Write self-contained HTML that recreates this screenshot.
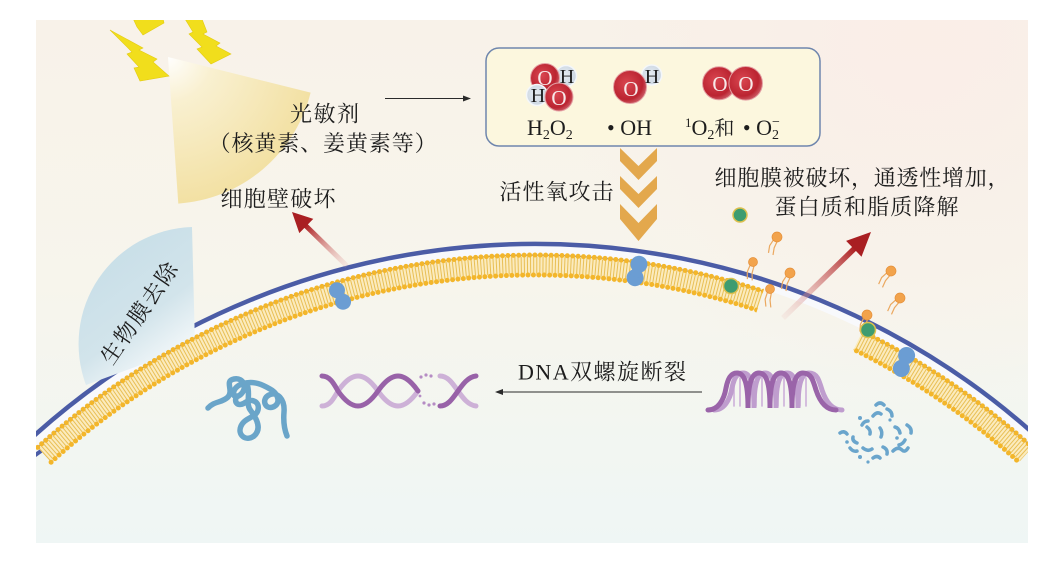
<!DOCTYPE html>
<html><head><meta charset="utf-8">
<style>
html,body{margin:0;padding:0;background:#fff;}
svg{display:block;}
text{font-family:"Liberation Serif","Noto Serif CJK SC",serif;fill:#1d1d1d;}
</style></head>
<body>
<svg width="1059" height="569" viewBox="0 0 1059 569" xmlns="http://www.w3.org/2000/svg">
<defs>
 <clipPath id="pic"><rect x="36" y="20" width="992" height="523"/></clipPath>
 <linearGradient id="bg" x1="0" y1="20" x2="0" y2="543" gradientUnits="userSpaceOnUse">
   <stop offset="0" stop-color="#f8f2e9"/>
   <stop offset="0.5" stop-color="#f7f5ec"/>
   <stop offset="1" stop-color="#eff6f5"/>
 </linearGradient>
 <radialGradient id="pink" cx="920" cy="40" r="360" gradientUnits="userSpaceOnUse">
   <stop offset="0" stop-color="#faede7" stop-opacity="0.9"/>
   <stop offset="1" stop-color="#faede7" stop-opacity="0"/>
 </radialGradient>
 <radialGradient id="cone" cx="168" cy="57" r="150" gradientUnits="userSpaceOnUse">
   <stop offset="0" stop-color="#ffffff"/>
   <stop offset="0.3" stop-color="#f9f0cf"/>
   <stop offset="1" stop-color="#f2df9e"/>
 </radialGradient>
 <linearGradient id="bio" x1="120" y1="250" x2="195" y2="350" gradientUnits="userSpaceOnUse">
   <stop offset="0" stop-color="#c9dfe8"/>
   <stop offset="0.55" stop-color="#d2e4eb"/>
   <stop offset="1" stop-color="#f7fafb"/>
 </linearGradient>
 <radialGradient id="oatom" cx="0.4" cy="0.4" r="0.6">
   <stop offset="0" stop-color="#d94650"/>
   <stop offset="0.8" stop-color="#bb2431"/>
   <stop offset="1" stop-color="#c8505a"/>
 </radialGradient>
 <radialGradient id="hatom" cx="0.45" cy="0.45" r="0.6">
   <stop offset="0" stop-color="#e6ecf2"/>
   <stop offset="1" stop-color="#c9d4e0"/>
 </radialGradient>
 <linearGradient id="ar1" x1="347" y1="266" x2="306" y2="226" gradientUnits="userSpaceOnUse">
   <stop offset="0" stop-color="#e8b4b0" stop-opacity="0.2"/>
   <stop offset="1" stop-color="#ae2325"/>
 </linearGradient>
 <linearGradient id="ar2" x1="783" y1="318" x2="854" y2="249" gradientUnits="userSpaceOnUse">
   <stop offset="0" stop-color="#e8b4b0" stop-opacity="0.15"/>
   <stop offset="1" stop-color="#ae2325"/>
 </linearGradient>
 <mask id="gapmask" maskUnits="userSpaceOnUse" x="0" y="0" width="1059" height="569">
   <rect x="0" y="0" width="1059" height="569" fill="#fff"/>
   <polygon points="764.3,288.3 788.8,296.7 813,306 836.8,316.2 863.8,328.8 847.8,361.1 822.1,349.1 799.5,339.4 776.5,330.6 753.2,322.5" fill="#000"/>
 </mask>
</defs>

<g clip-path="url(#pic)">
 <rect x="36" y="20" width="992" height="523" fill="url(#bg)"/>
 <rect x="36" y="20" width="992" height="523" fill="url(#pink)"/>

 <!-- light cone -->
 <path d="M168,57 L310.6,92.6 A147,147 0 0 1 178.3,203.6 Z" fill="url(#cone)" opacity="0.95"/>

 <!-- lightning bolts -->
 <g fill="#f1de1c" stroke="#e3cb12" stroke-width="0.6">
  <polygon points="110,30 143,48 139,50 157,59 153,62 169,76 140,81 134,68 139,67 127,54 132,52"/>
  <polygon points="182,14 200,14 207,32 203,34 220,43 216,46 231,54 211,64 197,49 202,47 189,34 193,32"/>
  <polygon points="131,14 162,14 164,23 143,35 137,27"/>
 </g>

 <!-- outer blue wall line and white band -->
 <path d="M27.3,449.5 A744.5,744.5 0 0 1 1042.7,449.5" fill="none" stroke="#f8f9fc" stroke-width="7"/>
 <path d="M23.5,445.4 A750,750 0 0 1 1046.5,445.4" fill="none" stroke="#4b5ca6" stroke-width="4.5"/>
 <line x1="34" y1="456" x2="48" y2="446" stroke="#4b5ca6" stroke-width="4"/>

 <!-- biofilm sector -->
 <path d="M195,345 L192,227 A117,117 0 0 0 86,385 Z" fill="url(#bio)"/>
 <text transform="translate(139,313) rotate(-55.5)" x="-59" y="8" font-size="22" textLength="118" lengthAdjust="spacing">生物膜去除</text>

 <!-- lipid bilayer -->
 <g mask="url(#gapmask)">
  <path d="M44.4,454.8 A729,729 0 0 1 1025.6,454.8" fill="none" stroke="#fbebbe" stroke-width="19"/>
  <path d="M44.4,454.8 A729,729 0 0 1 1025.6,454.8" fill="none" stroke="#e8bf55" stroke-width="17" stroke-dasharray="1 2.1"/>
  <path d="M37.7,447.4 A739,739 0 0 1 1032.3,447.4" fill="none" stroke="#7c82a2" stroke-width="1.1"/>
  <path d="M37.7,447.4 A739,739 0 0 1 1032.3,447.4" fill="none" stroke="#f3b62b" stroke-width="5" stroke-linecap="round" stroke-dasharray="0 5.4"/>
  <path d="M51.1,462.2 A719,719 0 0 1 1018.9,462.2" fill="none" stroke="#f3b62b" stroke-width="5" stroke-linecap="round" stroke-dasharray="0 5.4"/>
 </g>

 <!-- proteins -->
 <g fill="#6b9dd3">
  <g transform="translate(340,296) rotate(-28)"><circle cx="0" cy="-6.5" r="8"/><circle cx="0" cy="6.5" r="8"/><rect x="-4.5" y="-6" width="9" height="12"/></g>
  <g transform="translate(637,271) rotate(16)"><circle cx="0" cy="-7" r="8.5"/><circle cx="0" cy="7" r="8.5"/><rect x="-5" y="-6" width="10" height="12"/></g>
  <g transform="translate(904,362) rotate(22)"><circle cx="0" cy="-7" r="8.5"/><circle cx="0" cy="7" r="8.5"/><rect x="-5" y="-6" width="10" height="12"/></g>
 </g>

 <!-- lipids floating -->
 <g stroke="#eba860" stroke-width="1.2" fill="none">
  <g transform="translate(777,237) rotate(25)"><path d="M-2,4 L-3,11 L-1,18 M2,4 L2,11 L4,18"/></g>
  <g transform="translate(753,262) rotate(15)"><path d="M-2,4 L-3,11 L-1,18 M2,4 L2,11 L4,18"/></g>
  <g transform="translate(790,273) rotate(25)"><path d="M-2,4 L-3,11 L-1,18 M2,4 L2,11 L4,18"/></g>
  <g transform="translate(770,289) rotate(10)"><path d="M-2,4 L-3,11 L-1,18 M2,4 L2,11 L4,18"/></g>
  <g transform="translate(891,271) rotate(40)"><path d="M-2,4 L-3,11 L-1,18 M2,4 L2,11 L4,18"/></g>
  <g transform="translate(900,298) rotate(40)"><path d="M-2,4 L-3,11 L-1,18 M2,4 L2,11 L4,18"/></g>
  <g transform="translate(867,315) rotate(20)"><path d="M-2,4 L-3,11 L-1,18 M2,4 L2,11 L4,18"/></g>
 </g>
 <g fill="#f2a34c" stroke="#e58f38" stroke-width="0.7">
  <circle cx="777" cy="237" r="5"/>
  <circle cx="753" cy="262" r="4.5"/>
  <circle cx="790" cy="273" r="5"/>
  <circle cx="770" cy="289" r="4.5"/>
  <circle cx="891" cy="271" r="5"/>
  <circle cx="900" cy="298" r="5"/>
  <circle cx="867" cy="315" r="5"/>
 </g>
 <!-- green circles -->
 <g fill="#3e9c70" stroke="#dcc04e" stroke-width="1.5">
  <circle cx="740" cy="215" r="7"/>
  <circle cx="731" cy="286" r="7.5"/>
  <circle cx="868" cy="330" r="7.5"/>
 </g>

 <!-- red arrows -->
 <line x1="347" y1="266" x2="305" y2="225" stroke="url(#ar1)" stroke-width="5"/>
 <polygon points="292,212 313.3,218.9 299.3,233.1" fill="#a91f22"/>
 <line x1="783" y1="318" x2="855" y2="248" stroke="url(#ar2)" stroke-width="5.5"/>
 <polygon points="871,232 861.5,256.7 846.1,240.9" fill="#a91f22"/>

 <!-- chevrons -->
 <g fill="#e3a84d">
  <polygon points="620,148 638.5,166 657,148 657,161 638.5,180 620,161"/>
  <polygon points="620,176 638.5,194 657,176 657,189 638.5,208 620,189"/>
  <polygon points="620,204 638.5,223 657,204 657,219 638.5,241 620,219"/>
 </g>

 <!-- ROS box -->
 <rect x="486" y="48" width="334" height="98" rx="13" ry="13" fill="#fcf7de" stroke="#6f86ad" stroke-width="1.5"/>

 <!-- H2O2 -->
 <circle cx="566" cy="76" r="10.5" fill="url(#hatom)" stroke="#f4f7fa" stroke-width="1.5"/>
 <circle cx="545" cy="78" r="14.5" fill="url(#oatom)" stroke="#e4a0a4" stroke-width="1"/>
 <circle cx="537" cy="95" r="10.5" fill="url(#hatom)" stroke="#f4f7fa" stroke-width="1.5"/>
 <circle cx="559" cy="97" r="14" fill="url(#oatom)" stroke="#e4a0a4" stroke-width="1"/>
 <text x="545" y="85" font-size="21" text-anchor="middle" style="fill:#f7e9e9">O</text>
 <text x="567" y="83" font-size="20" text-anchor="middle">H</text>
 <text x="538" y="102" font-size="20" text-anchor="middle">H</text>
 <text x="559" y="105" font-size="21" text-anchor="middle" style="fill:#f7e9e9">O</text>
 <!-- OH -->
 <circle cx="651.7" cy="75" r="10" fill="url(#hatom)" stroke="#f4f7fa" stroke-width="1.5"/>
 <circle cx="630" cy="87" r="16.5" fill="url(#oatom)" stroke="#e4a0a4" stroke-width="1"/>
 <text x="631" y="96" font-size="21" text-anchor="middle" style="fill:#f7e9e9">O</text>
 <text x="652" y="83" font-size="20" text-anchor="middle">H</text>
 <!-- O2 -->
 <circle cx="719" cy="83.3" r="16.5" fill="url(#oatom)" stroke="#e4a0a4" stroke-width="1"/>
 <circle cx="745.7" cy="83.3" r="16.8" fill="url(#oatom)" stroke="#e4a0a4" stroke-width="1"/>
 <text x="720" y="91" font-size="21" text-anchor="middle" style="fill:#f7e9e9">O</text>
 <text x="746" y="91" font-size="21" text-anchor="middle" style="fill:#f7e9e9">O</text>

 <!-- molecule labels -->
 <text x="527" y="135" font-size="22">H<tspan font-size="14" dy="4">2</tspan><tspan dy="-4">O</tspan><tspan font-size="14" dy="4">2</tspan></text>
 <text x="607" y="135" font-size="22">• OH</text>
 <text x="685" y="135" font-size="22"><tspan font-size="13" dy="-8">1</tspan><tspan dy="8">O</tspan><tspan font-size="14" dy="4">2</tspan><tspan font-size="20" dy="-4">和</tspan><tspan dx="3"> • O</tspan><tspan font-size="14" dy="4">2</tspan><tspan font-size="14" dx="-7" dy="-13">−</tspan></text>

 <!-- thin arrows -->
 <line x1="385" y1="98.5" x2="465" y2="98.5" stroke="#2a2a2a" stroke-width="1"/>
 <polygon points="471,98.5 463,95.5 463,101.5" fill="#2a2a2a"/>
 <line x1="500" y1="392" x2="702" y2="392" stroke="#2a2a2a" stroke-width="1"/>
 <polygon points="495,392 503,389 503,395" fill="#2a2a2a"/>

 <!-- labels -->
 <text x="290" y="121.4" font-size="22" textLength="69" lengthAdjust="spacing">光敏剂</text>
 <text x="208.6" y="151" font-size="22" textLength="228" lengthAdjust="spacing">（核黄素、姜黄素等）</text>
 <text x="220.5" y="206.4" font-size="22" textLength="115" lengthAdjust="spacing">细胞壁破坏</text>
 <text x="499.5" y="199.5" font-size="22" textLength="114" lengthAdjust="spacing">活性氧攻击</text>
 <text x="714.5" y="185.4" font-size="22" textLength="295" lengthAdjust="spacing">细胞膜被破坏，通透性增加，</text>
 <text x="774.5" y="214.4" font-size="22" textLength="184" lengthAdjust="spacing">蛋白质和脂质降解</text>
 <text x="518" y="379.5" font-size="22" textLength="168" lengthAdjust="spacing">DNA双螺旋断裂</text>

 <!-- blue tangle -->
 <path d="M208,408 C214,401 222,403 228,397 C234,390 224,381 234,379 C244,377 248,389 240,395 C232,401 230,388 242,384 C254,380 263,385 270,389 C279,394 281,404 273,407 C265,410 261,399 269,395 C277,391 285,399 284,412 C283,424 285,431 287,436 M247,384 C251,395 245,404 251,411 C257,419 262,429 254,436 C246,442 237,435 241,426 C245,417 256,418 258,410 C260,402 252,398 246,402 C238,408 233,402 237,396" fill="none" stroke="#6aa5c9" stroke-width="5.5" stroke-linecap="round"/>

 <!-- broken DNA -->
 <g fill="none" stroke-width="5" stroke-linecap="round">
  <path d="M322,406 C330,406 334,398 338,391 C352,371 364,371 378,391 C392,411 404,411 418,391 M440,376 C448,376 453,384 458,391 C463,398 468,405 476,406" stroke="#cdb1d7"/>
  <path d="M322,376 C330,376 334,384 338,391 C352,411 364,411 378,391 C392,371 404,371 418,391 M440,406 C448,406 453,398 458,391 C463,384 468,377 476,376" stroke="#9862a8"/>
 </g>
 <g fill="#b58cc4">
  <circle cx="421" cy="377" r="1.6"/><circle cx="426" cy="375" r="1.6"/><circle cx="431" cy="376" r="1.6"/>
  <circle cx="424" cy="403" r="1.6"/><circle cx="429" cy="405" r="1.6"/><circle cx="434" cy="404" r="1.6"/>
  <circle cx="420" cy="396" r="1.4"/>
 </g>

 <!-- intact DNA -->
 <g fill="none" stroke-linecap="round">
  <g stroke="#cdb0d9" stroke-width="1.6">
   <line x1="734" y1="380" x2="734" y2="406"/><line x1="740" y1="378" x2="740" y2="406"/>
   <line x1="756" y1="380" x2="756" y2="406"/><line x1="762" y1="378" x2="762" y2="406"/>
   <line x1="778" y1="380" x2="778" y2="406"/><line x1="784" y1="378" x2="784" y2="406"/>
   <line x1="800" y1="380" x2="800" y2="406"/><line x1="806" y1="378" x2="806" y2="406"/>
  </g>
  <path transform="translate(6,0)" d="M708,410 C718,410 724,400 726,388 C728,378 731,373 737,373 C745,373 748,385 748,408 C748,385 751,373 759,373 C767,373 770,385 770,408 C770,385 773,373 781,373 C789,373 792,385 792,408 C792,385 795,373 803,373 C811,373 813,380 816,390 C820,402 826,410 836,410" stroke="#bf9dce" stroke-width="5"/>
  <path d="M708,410 C718,410 724,400 726,388 C728,378 731,373 737,373 C745,373 748,385 748,408 C748,385 751,373 759,373 C767,373 770,385 770,408 C770,385 773,373 781,373 C789,373 792,385 792,408 C792,385 795,373 803,373 C811,373 813,380 816,390 C820,402 826,410 836,410" stroke="#9a64a9" stroke-width="5"/>
 </g>

 <!-- fragments -->
 <g fill="none" stroke="#6aa5cc" stroke-width="3.5" stroke-linecap="round">
  <path d="M876,405 Q880,401 884,405"/>
  <path d="M873,416 Q877,411 881,414"/>
  <path d="M887,409 Q892,411 892,416"/>
  <path d="M840,433 Q844,430 847,434"/>
  <path d="M853,437 Q852,441 857,443"/>
  <path d="M867,427 Q871,430 870,434"/>
  <path d="M880,428 Q883,432 881,437"/>
  <path d="M895,427 Q899,428 900,433"/>
  <path d="M907,425 Q912,428 911,433"/>
  <path d="M905,440 Q903,444 899,445"/>
  <path d="M863,448 Q868,452 872,449"/>
  <path d="M883,447 Q888,449 887,454"/>
  <path d="M893,451 Q898,446 902,450 Q905,453 908,448"/>
  <path d="M873,458 Q877,455 880,458"/>
  <path d="M862,425 Q864,421 868,421"/>
  <path d="M850,448 Q853,452 857,451"/>
 </g>
 <g fill="#6aa5cc">
  <circle cx="860" cy="418" r="2"/><circle cx="847" cy="442" r="1.8"/>
  <circle cx="860" cy="457" r="2"/><circle cx="897" cy="438" r="1.8"/>
  <circle cx="868" cy="462" r="1.6"/><circle cx="890" cy="420" r="1.6"/>
 </g>
</g>
</svg>
</body></html>
